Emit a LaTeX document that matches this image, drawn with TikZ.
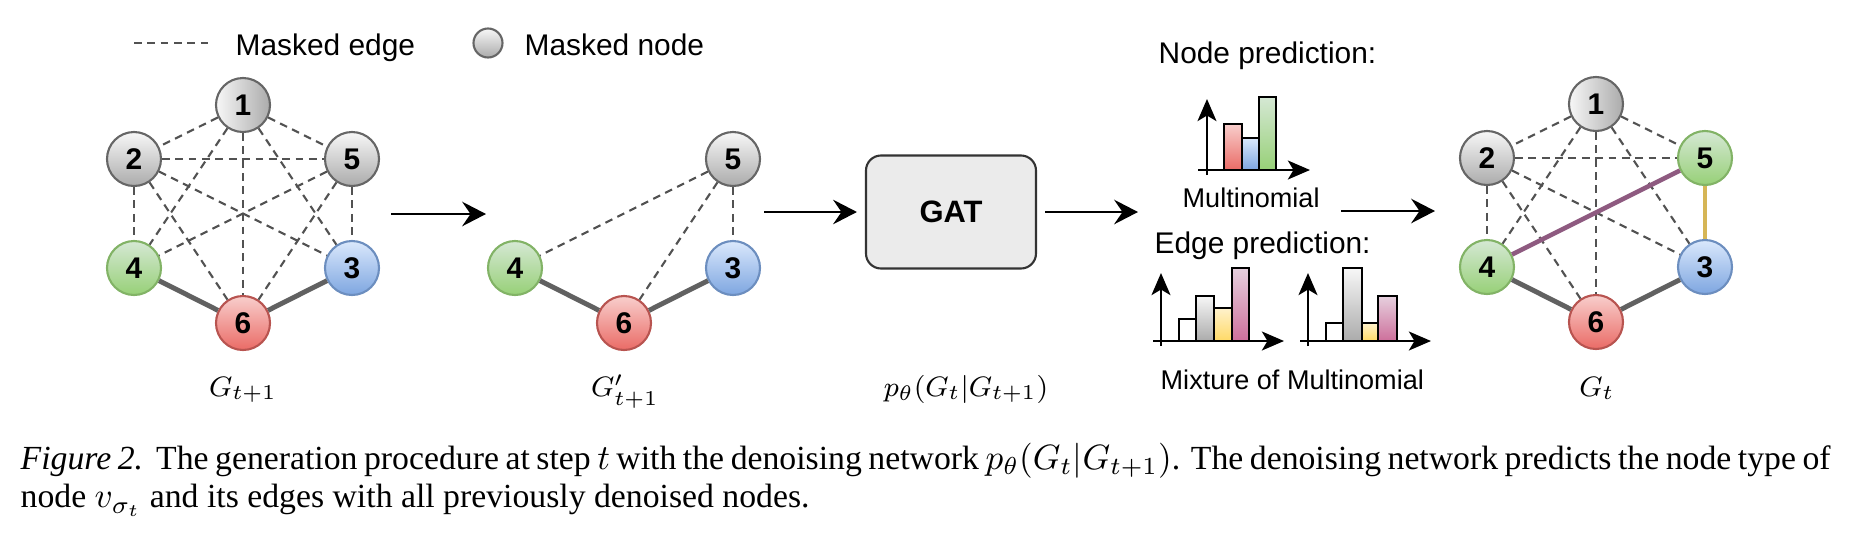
\documentclass[tikz,border=0pt]{standalone}
\usepackage{fontspec}
\setmainfont{Liberation Serif}
\setsansfont{Liberation Sans}
\usetikzlibrary{arrows.meta}

\definecolor{higrey}{HTML}{F7F7F7}
\definecolor{logrey}{HTML}{ABABAB}
\definecolor{edgrey}{HTML}{666666}
\definecolor{higreen}{HTML}{D5E8D4}
\definecolor{logreen}{HTML}{97D077}
\definecolor{edgreen}{HTML}{82B366}
\definecolor{hiblue}{HTML}{DAE8FC}
\definecolor{loblue}{HTML}{7EA6E0}
\definecolor{edblue}{HTML}{6C8EBF}
\definecolor{hired}{HTML}{F8CECC}
\definecolor{lored}{HTML}{EA6B66}
\definecolor{edred}{HTML}{B85450}
\definecolor{hiyellow}{HTML}{FFF2CC}
\definecolor{loyellow}{HTML}{FFD966}
\definecolor{hipink}{HTML}{E6D0DE}
\definecolor{lopink}{HTML}{CD6F9B}
\definecolor{hiwhite}{HTML}{FFFFFF}
\definecolor{lowhite}{HTML}{FFFFFF}
\definecolor{predpurple}{HTML}{8E5A80}
\definecolor{predgold}{HTML}{D6B656}
\definecolor{gatfill}{HTML}{EBEBEB}

\tikzset{
    gnode/.style={circle,minimum size=5.4mm,inner sep=0pt,line width=0.6pt,
        font=\sffamily\bfseries\fontsize{8.5}{8.5}\selectfont},
    greynode/.style={gnode,draw=edgrey,top color=higrey,bottom color=logrey},
    greynodeh/.style={gnode,draw=edgrey,left color=higrey,right color=logrey},
    greennode/.style={gnode,draw=edgreen,top color=higreen,bottom color=logreen},
    bluenode/.style={gnode,draw=edblue,top color=hiblue,bottom color=loblue},
    rednode/.style={gnode,draw=edred,top color=hired,bottom color=lored},
    masked/.style={draw=black!68,line width=0.6pt,dash pattern=on 2.2pt off 1.6pt},
    kept/.style={draw=black!62,line width=1.4pt},
    flow/.style={-{Stealth[length=6.8pt,width=7pt,inset=2.4pt]},line width=0.6pt},
    axis/.style={-{Stealth[length=6.3pt,width=5.4pt,inset=1.6pt]},line width=0.6pt},
    bar/.style={draw=black,line width=0.55pt},
    sftext/.style={font=\sffamily\fontsize{8.5}{9}\selectfont,inner sep=0pt},
    sfsmall/.style={font=\sffamily\fontsize{7.7}{8}\selectfont,inner sep=0pt},
    mathlab/.style={font=\fontsize{8}{8}\selectfont,inner sep=0pt}
}

\begin{document}
\begin{tikzpicture}[x=0.1mm,y=-0.1mm]
    \useasboundingbox (0,0) rectangle (1850,533);
    % Legend.
    \draw[masked] (134,43) -- (208,43);
    \node[sftext,anchor=base west] (legedge) at (235,55) {Masked edge};
    \node[greynode,minimum size=2.9mm] (legnode) at (488,43) {};
    \node[sftext,anchor=base west] (legnodetext) at (524,55) {Masked node};
    % Noisy graph G_{t+1}: every edge touching a masked node is masked.
    \begin{scope}[shift={(243,214)}]
        \node[greynodeh] (l1) at (0,-109) {1};
        \node[greynode] (l2) at (-109,-55) {2};
        \node[greynode] (l5) at (109,-55) {5};
        \node[greennode] (l4) at (-109,54) {4};
        \node[bluenode] (l3) at (109,54) {3};
        \node[rednode] (l6) at (0,109) {6};
        \foreach \a/\b in {1/2,1/5,1/6,1/4,1/3,2/5,2/4,2/3,2/6,5/3,5/4,5/6} {
            \draw[masked] (l\a) -- (l\b);
        }
        \foreach \a/\b in {4/6,6/3} {
            \draw[kept] (l\a) -- (l\b);
        }
        \node[mathlab,anchor=base] (lname) at (0,182) {$G_{t+1}$};
    \end{scope}
    % Subgraph with the denoised nodes and the node to predict.
    \begin{scope}[shift={(624,214)}]
        \node[greynode] (m5) at (109,-55) {5};
        \node[greennode] (m4) at (-109,54) {4};
        \node[bluenode] (m3) at (109,54) {3};
        \node[rednode] (m6) at (0,109) {6};
        \foreach \a/\b in {5/4,5/6,5/3} {
            \draw[masked] (m\a) -- (m\b);
        }
        \foreach \a/\b in {4/6,6/3} {
            \draw[kept] (m\a) -- (m\b);
        }
        \node[mathlab,anchor=base] (mname) at (1,182) {$G'_{t+1}$};
    \end{scope}
    % Denoising network.
    \node[draw=black!80,fill=gatfill,rounded corners=1.5mm,line width=0.6pt,
        minimum width=17mm,minimum height=11.3mm,
        font=\sffamily\bfseries\fontsize{8.8}{9}\selectfont] (gat) at (951,212) {GAT};
    \node[mathlab,anchor=base] (gatname) at (966,396) {$p_\theta(G_t|G_{t+1})$};
    \coordinate (a1s) at (391,214);
    \coordinate (a1e) at (486,214);
    \coordinate (a2s) at (764,212);
    \coordinate (a3e) at (1138,212);
    \coordinate (a4s) at (1341,211);
    \coordinate (a4e) at (1435,211);
    \draw[flow] (a1s) -- (a1e);
    \draw[flow,shorten >=0.8mm] (a2s) -- (gat.west);
    \draw[flow,shorten <=0.8mm] (gat.east) -- (a3e);
    \draw[flow] (a4s) -- (a4e);
    % Output distributions.
    \node[sftext,anchor=base west] (nodepred) at (1158,63) {Node prediction:};
    \foreach \xa/\xb/\yt/\cc in {1224/1242/124/red,1242/1259/138/blue,1259/1276/97/green} {
        \draw[bar,top color=hi\cc,bottom color=lo\cc] (\xa,170) rectangle (\xb,\yt);
    }
    \draw[axis] (1207,175) -- (1207,99);
    \draw[axis] (1198,170) -- (1310,170);
    \node[sfsmall,anchor=base west] (multi) at (1182,207) {Multinomial};
    \node[sftext,anchor=base west] (edgepred) at (1154,253) {Edge prediction:};
    \foreach \xa/\xb/\yt/\cc in {1179/1196/319/white,1196/1214/296/grey,1214/1232/308/yellow,1232/1249/268/pink} {
        \draw[bar,top color=hi\cc,bottom color=lo\cc] (\xa,341) rectangle (\xb,\yt);
    }
    \foreach \xa/\xb/\yt/\cc in {1326/1343/323/white,1343/1362/268/grey,1362/1378/323/yellow,1378/1397/296/pink} {
        \draw[bar,top color=hi\cc,bottom color=lo\cc] (\xa,341) rectangle (\xb,\yt);
    }
    \foreach \ox in {1161,1308} {
        \draw[axis] (\ox,346) -- (\ox,273);
        \draw[axis] (\ox-8,341) -- (\ox+123,341);
    }
    \node[sfsmall,anchor=base west] (mixture) at (1160,389) {Mixture of Multinomial};
    % Denoised graph G_t: node 5 gets its type and its edges to 4 and 3.
    \begin{scope}[shift={(1596,213)}]
        \node[greynodeh] (r1) at (0,-109) {1};
        \node[greynode] (r2) at (-109,-55) {2};
        \node[greennode] (r5) at (109,-55) {5};
        \node[greennode] (r4) at (-109,54) {4};
        \node[bluenode] (r3) at (109,54) {3};
        \node[rednode] (r6) at (0,109) {6};
        \foreach \a/\b in {1/2,1/5,1/6,1/4,1/3,2/5,2/4,2/3,2/6} {
            \draw[masked] (r\a) -- (r\b);
        }
        \foreach \a/\b in {4/6,6/3} {
            \draw[kept] (r\a) -- (r\b);
        }
        \draw[predpurple,line width=1.3pt] (r4) -- (r5);
        \draw[predgold,line width=0.9pt] (r5) -- (r3);
        \node[mathlab,anchor=base] (rname) at (1,183) {$G_t$};
    \end{scope}
    % Caption.
    \node[anchor=north west,text width=181mm,align=justify,inner sep=0pt,
        font=\rmfamily\fontsize{9.6}{11}\selectfont] (caption) at (20,442)
        {\textit{Figure 2.}\ \ The generation procedure at step $t$ with the denoising network $p_\theta(G_t|G_{t+1})$. The denoising network predicts the node type of\linebreak node $v_{\sigma_t}$ and its edges with all previously denoised nodes.};
\end{tikzpicture}
\end{document}
